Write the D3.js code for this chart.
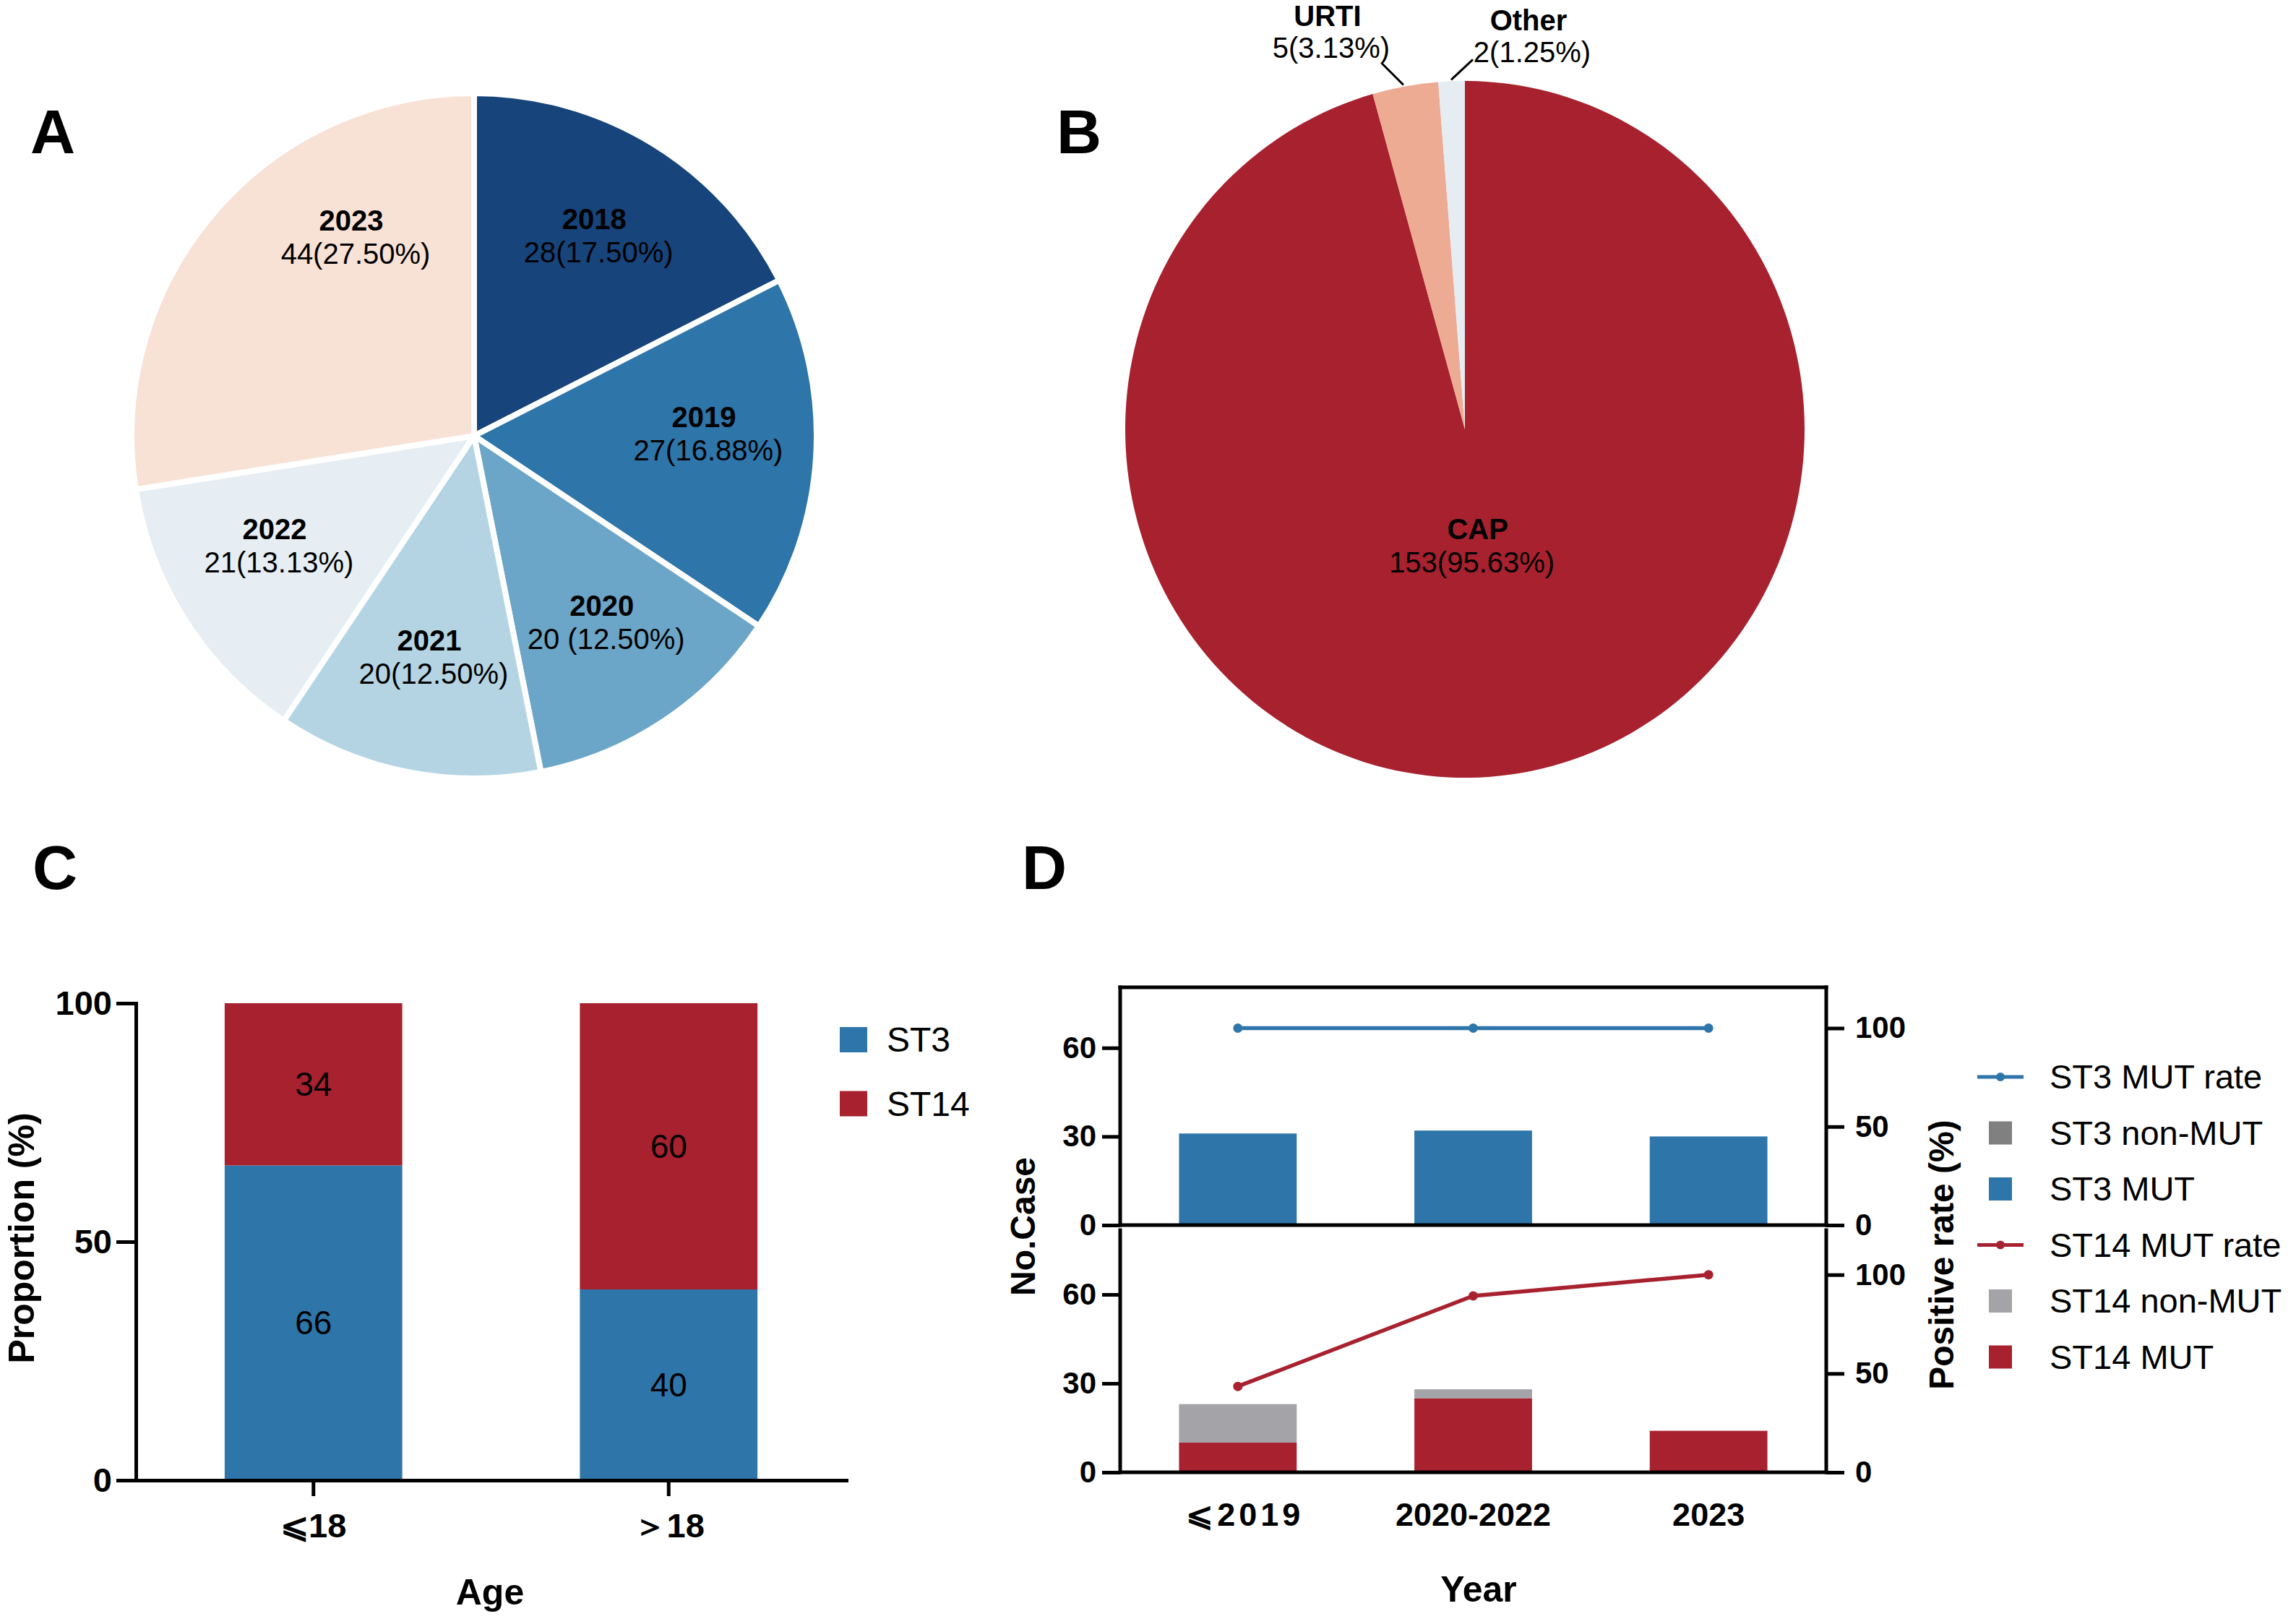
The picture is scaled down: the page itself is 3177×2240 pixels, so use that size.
<!DOCTYPE html>
<html><head><meta charset="utf-8">
<script src="https://cdn.jsdelivr.net/npm/d3@7"></script>
<style>body{margin:0;background:#fff}svg{display:block}</style>
</head><body>
<svg id="fig" width="3177" height="2240"></svg>
<script>
// ---------------- DATA ----------------
// Panel A
const yearsA  = ["2018","2019","2020","2021","2022","2023"];
const countsA = [28,27,20,20,21,44];
const valueLabelsA = ["28(17.50%)","27(16.88%)","20 (12.50%)","20(12.50%)","21(13.13%)","44(27.50%)"];
const colorsA = ["#16447b","#2e75aa","#6ba5c7","#b4d4e4","#e6eef3","#f8e1d5"];
// Panel B
const catsB   = ["CAP","URTI","Other"];
const countsB = [153,5,2];
const valueLabelsB = ["153(95.63%)","5(3.13%)","2(1.25%)"];
const colorsB = ["#a8212f","#eeab93","#e6edf2"];
// Panel C
const ageGroups = ["⩽18","＞18"];
const st3C  = [66,40];
const st14C = [34,60];
const seriesC = ["ST3","ST14"];
const colorsC = ["#2e75aa","#a8212f"];
const ticksC = [0,50,100];
// Panel D
const periods  = ["⩽2019","2020-2022","2023"];
const st3Mut   = [31,32,30];
const st3Non   = [0,0,0];
const st3Rate  = [100,100,100];
const st14Mut  = [10,25,14];
const st14Non  = [13,3,0];
const st14Rate = [43.48,89.29,100];
const ticksCase = [0,30,60];
const ticksRate = [0,50,100];
const legendD = [
  {label:"ST3 MUT rate",  type:"line", color:"#2e75aa"},
  {label:"ST3 non-MUT",   type:"rect", color:"#808080"},
  {label:"ST3 MUT",       type:"rect", color:"#2e75aa"},
  {label:"ST14 MUT rate", type:"line", color:"#a8212f"},
  {label:"ST14 non-MUT",  type:"rect", color:"#a3a3a8"},
  {label:"ST14 MUT",      type:"rect", color:"#a8212f"}
];

// ---------------- DRAW ----------------
const FONT = '"Liberation Sans", Arial, Helvetica, sans-serif';
const svg = d3.select("#fig");
svg.append("rect").attr("width",3177).attr("height",2240).attr("fill","#fff");
svg.attr("font-family", FONT);

// panel letters
[["A",42,212],["B",1462,212],["C",45,1230],["D",1414,1230]].forEach(([t,x,y])=>{
  svg.append("text").attr("x",x).attr("y",y).text(t)
    .attr("font-size",86).attr("font-weight","bold").attr("fill","#000");
});

// ---- Panel A ----
{
  const g = svg.append("g").attr("transform","translate(656,603)");
  const arcs = d3.pie().sort(null).value(d=>d)(countsA);
  const arc = d3.arc().innerRadius(0).outerRadius(474);
  g.selectAll("path").data(arcs).join("path")
    .attr("d",arc).attr("fill",(d,i)=>colorsA[i])
    .attr("stroke","#fff").attr("stroke-width",8).attr("stroke-linejoin","round");
  const nudge = {"2023":0.3, "2019":-0.05, "2022":0.05};
  const R = 318;
  arcs.forEach((a,i)=>{
    const ang = (a.startAngle+a.endAngle)/2 + (nudge[yearsA[i]]||0);
    const x = Math.sin(ang)*R, y = -Math.cos(ang)*R;
    const lg = g.append("g").attr("transform",`translate(${x},${y})`);
    lg.append("text").attr("text-anchor","middle").attr("y",-15)
      .attr("font-size",40).attr("font-weight","bold").text(yearsA[i]);
    lg.append("text").attr("text-anchor","middle").attr("y",31).attr("x",6)
      .attr("font-size",40).text(valueLabelsA[i]);
  });
}

// ---- Panel B ----
{
  const cx = 2027, cy = 594, r = 476;
  const g = svg.append("g").attr("transform",`translate(${cx},${cy})`);
  const arcs = d3.pie().sort(null).value(d=>d)(countsB);
  const arc = d3.arc().innerRadius(0).outerRadius(r);
  g.append("g").attr("transform",`scale(${470/r},${482/r})`)
    .selectAll("path").data(arcs).join("path")
    .attr("d",arc).attr("fill",(d,i)=>colorsB[i]);
  // inside label (CAP)
  const a0 = arcs[0];
  const ang0 = (a0.startAngle+a0.endAngle)/2;
  const lx = Math.sin(ang0)*158 - 12, ly = -Math.cos(ang0)*158;
  g.append("text").attr("x",lx+8).attr("y",ly-5).attr("text-anchor","middle")
    .attr("font-size",40).attr("font-weight","bold").text(catsB[0]);
  g.append("text").attr("x",lx).attr("y",ly+41).attr("text-anchor","middle")
    .attr("font-size",40).text(valueLabelsB[0]);
  // outside labels with leaders
  const lead = {URTI:{dx:-30,dy:-30,tx:-70,ty:-8}, Other:{dx:30,dy:-28,tx:82,ty:4}};
  [1,2].forEach(i=>{
    const a = arcs[i];
    const ang = (a.startAngle+a.endAngle)/2;
    const sx = Math.sin(ang)*(r+8), sy = -Math.cos(ang)*(r+8);
    const L = lead[catsB[i]];
    const ex = sx+L.dx, ey = sy+L.dy;
    g.append("line").attr("x1",sx).attr("y1",sy).attr("x2",ex).attr("y2",ey)
      .attr("stroke","#000").attr("stroke-width",3);
    g.append("text").attr("x",ex+L.tx).attr("y",ey+L.ty).attr("text-anchor","middle")
      .attr("font-size",40).text(valueLabelsB[i]);
    g.append("text").attr("x",ex+L.tx-5).attr("y",ey+L.ty-44).attr("text-anchor","middle")
      .attr("font-size",40).attr("font-weight","bold").text(catsB[i]);
  });
}

function styleAxis(g, fs){
  g.attr("font-family",FONT).attr("font-size",fs).attr("font-weight","bold");
  g.selectAll("path.domain").attr("stroke","#000").attr("stroke-width",5).attr("stroke-linecap","square");
  g.selectAll(".tick line").attr("stroke","#000").attr("stroke-width",5);
  g.selectAll(".tick text").attr("fill","#000");
}

// ---- Panel C ----
{
  const x = d3.scaleBand().domain(ageGroups).range([188,1171]).paddingInner(0.5).paddingOuter(0.25);
  const y = d3.scaleLinear().domain([0,100]).range([2048,1388]);
  const rows = ageGroups.map((gname,i)=>({group:gname, ST3:st3C[i], ST14:st14C[i]}));
  const stack = d3.stack().keys(seriesC)(rows);
  const g = svg.append("g");
  stack.forEach((s,si)=>{
    g.selectAll(null).data(s).join("rect")
      .attr("x",d=>x(d.data.group)).attr("width",x.bandwidth())
      .attr("y",d=>y(d[1])).attr("height",d=>y(d[0])-y(d[1]))
      .attr("fill",colorsC[si]);
    g.selectAll(null).data(s).join("text")
      .attr("x",d=>x(d.data.group)+x.bandwidth()/2)
      .attr("y",d=>y((d[0]+d[1])/2)).attr("dy","0.35em")
      .attr("text-anchor","middle").attr("font-size",46).attr("fill","#000")
      .text(d=>d.data[s.key]);
  });
  const ay = svg.append("g").attr("transform","translate(188,0)")
    .call(d3.axisLeft(y).tickValues(ticksC).tickSize(27).tickPadding(6).tickSizeOuter(0));
  styleAxis(ay,47);
  const ax = svg.append("g").attr("transform","translate(0,2048)")
    .call(d3.axisBottom(x).tickSize(22).tickPadding(24).tickSizeOuter(0));
  styleAxis(ax,47);
  svg.append("text").attr("x",678).attr("y",2220).attr("text-anchor","middle")
    .attr("font-size",50).attr("font-weight","bold").text("Age");
  svg.append("text").attr("transform","translate(47,1713) rotate(-90)").attr("text-anchor","middle")
    .attr("font-size",50).attr("font-weight","bold").text("Proportion (%)");
  // legend
  seriesC.forEach((k,i)=>{
    const cyy = 1438.5 + i*88.5;
    svg.append("rect").attr("x",1162).attr("y",cyy-17.5).attr("width",38).attr("height",35).attr("fill",colorsC[i]);
    svg.append("text").attr("x",1227).attr("y",cyy).attr("dy","0.35em").attr("font-size",48).text(k);
  });
}

// ---- Panel D ----
{
  const L = 1550, Rr = 2527;
  const x = d3.scaleBand().domain(periods).range([L,Rr]).paddingInner(0.5).paddingOuter(0.25);
  const bw = x.bandwidth();
  const panels = [
    {yL:d3.scaleLinear().domain([0,80]).range([1695,1368]),
     yR:d3.scaleLinear().domain([0,120]).range([1695,1368]),
     mut:st3Mut, non:st3Non, rate:st3Rate,
     cMut:legendD[2].color, cNon:legendD[1].color, cLine:legendD[0].color},
    {yL:d3.scaleLinear().domain([0,80]).range([2037,1709]),
     yR:d3.scaleLinear().domain([0,120]).range([2037,1709]),
     mut:st14Mut, non:st14Non, rate:st14Rate,
     cMut:legendD[5].color, cNon:legendD[4].color, cLine:legendD[3].color}
  ];
  panels.forEach((p,pi)=>{
    const rows = periods.map((per,i)=>({per, mut:p.mut[i], non:p.non[i]}));
    const st = d3.stack().keys(["mut","non"])(rows);
    st.forEach((s,si)=>{
      svg.append("g").selectAll("rect").data(s).join("rect")
        .attr("x",d=>x(d.data.per)).attr("width",bw)
        .attr("y",d=>p.yL(d[1])).attr("height",d=>p.yL(d[0])-p.yL(d[1]))
        .attr("fill", si===0 ? p.cMut : p.cNon);
    });
    const pts = periods.map((per,i)=>[x(per)+bw/2, p.yR(p.rate[i])]);
    svg.append("path").attr("d",d3.line()(pts)).attr("fill","none")
      .attr("stroke",p.cLine).attr("stroke-width",5.5);
    svg.append("g").selectAll("circle").data(pts).join("circle")
      .attr("cx",d=>d[0]).attr("cy",d=>d[1]).attr("r",6.5).attr("fill",p.cLine);

    const y0 = p.yL(0), yTop = pi===0 ? 1366 : 1702;
    const frame = svg.append("g").attr("stroke","#000").attr("stroke-width",5).attr("stroke-linecap","square");
    frame.append("line").attr("x1",L).attr("x2",L).attr("y1",yTop).attr("y2",y0);
    frame.append("line").attr("x1",Rr).attr("x2",Rr).attr("y1",yTop).attr("y2",y0);
    frame.append("line").attr("x1",L).attr("x2",Rr).attr("y1",y0).attr("y2",y0);
    if(pi===0) frame.append("line").attr("x1",L).attr("x2",Rr).attr("y1",yTop).attr("y2",yTop);

    const al = svg.append("g").attr("transform",`translate(${L},0)`)
      .call(d3.axisLeft(p.yL).tickValues(ticksCase).tickSize(25).tickPadding(8));
    al.select(".domain").remove(); styleAxis(al,42);
    const ar = svg.append("g").attr("transform",`translate(${Rr},0)`)
      .call(d3.axisRight(p.yR).tickValues(ticksRate).tickSize(25).tickPadding(15));
    ar.select(".domain").remove(); styleAxis(ar,42);
  });
  const axb = svg.append("g").attr("transform","translate(0,2037)")
    .call(d3.axisBottom(x).tickSize(0).tickPadding(42));
  axb.select(".domain").remove(); styleAxis(axb,45);
  axb.selectAll(".tick text").style("letter-spacing",d=>d.startsWith("⩽")?"5px":null)
    .attr("x",d=>d.startsWith("⩽")?10:0);

  svg.append("text").attr("x",2046).attr("y",2216).attr("text-anchor","middle")
    .attr("font-size",50).attr("font-weight","bold").text("Year");
  svg.append("text").attr("transform","translate(1432,1697) rotate(-90)").attr("text-anchor","middle")
    .attr("font-size",48).attr("font-weight","bold").text("No.Case");
  svg.append("text").attr("transform","translate(2703,1736) rotate(-90)").attr("text-anchor","middle")
    .attr("font-size",48).attr("font-weight","bold").text("Positive rate (%)");

  legendD.forEach((it,i)=>{
    const cyy = 1490 + i*77.5, cxx = 2768;
    if(it.type==="line"){
      svg.append("line").attr("x1",cxx-32).attr("x2",cxx+32).attr("y1",cyy).attr("y2",cyy)
        .attr("stroke",it.color).attr("stroke-width",5);
      svg.append("circle").attr("cx",cxx).attr("cy",cyy).attr("r",6).attr("fill",it.color);
    } else {
      svg.append("rect").attr("x",cxx-16).attr("y",cyy-16).attr("width",32).attr("height",32).attr("fill",it.color);
    }
    svg.append("text").attr("x",2836).attr("y",cyy).attr("dy","0.35em").attr("font-size",47).text(it.label);
  });
}
</script>
</body></html>
